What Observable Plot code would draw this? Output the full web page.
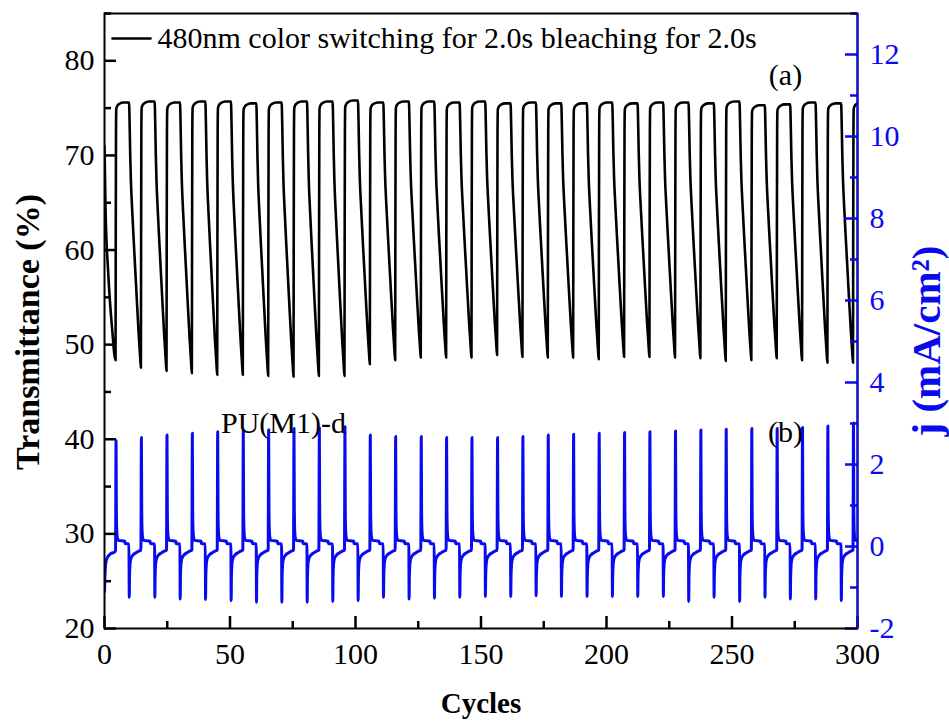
<!DOCTYPE html>
<html><head><meta charset="utf-8">
<script src="https://cdn.jsdelivr.net/npm/d3@7"></script>
<script src="https://cdn.jsdelivr.net/npm/@observablehq/plot@0.6"></script>
<style>body{margin:0;background:#fff}#chart{width:949px;height:724px}</style>
</head><body><div id="chart"></div>
<script>
// ---- data ----
// cycle positions of each transmittance minimum (start of bleaching)
const minCycle = [4.4,14.5,24.7,34.8,44.9,55.1,65.2,75.3,85.4,95.6,105.7,115.8,126.0,136.1,146.2,156.4,166.5,176.6,186.7,196.9,207.0,217.1,227.3,237.4,247.5,257.7,267.8,277.9,288.0,298.2];
// transmittance minimum (%) of each cycle
const minT = [48.35,47.57,47.22,46.98,46.80,46.80,46.70,46.62,46.70,46.70,47.93,48.35,48.63,48.63,48.63,48.91,48.70,48.63,48.63,48.45,48.70,48.70,48.63,48.56,48.28,48.35,48.56,48.35,48.10,48.10];
// bleached plateau transmittance (%) of each cycle
const topT = [75.6,75.7,75.6,75.7,75.7,75.5,75.6,75.7,75.7,75.8,75.6,75.7,75.7,75.6,75.7,75.5,75.6,75.5,75.5,75.6,75.5,75.6,75.6,75.5,75.7,75.3,75.4,75.6,75.5,75.6];
// anodic current peak (mA/cm2) of each cycle
const jPeak = [2.58,2.66,2.72,2.76,2.80,2.82,2.85,2.88,2.89,2.92,2.72,2.68,2.68,2.66,2.66,2.66,2.68,2.72,2.74,2.76,2.78,2.80,2.82,2.84,2.86,2.88,2.88,2.90,2.94,3.01];
// cathodic current peak (mA/cm2) of each colouring step
const jNeg = [-1.24,-1.24,-1.28,-1.29,-1.32,-1.36,-1.36,-1.36,-1.34,-1.32,-1.24,-1.28,-1.26,-1.24,-1.22,-1.22,-1.20,-1.22,-1.22,-1.22,-1.22,-1.22,-1.34,-1.24,-1.34,-1.24,-1.28,-1.28,-1.32];
// beginning of the traces (before the first minimum)
const startT = [[0,71],[0.4,64.5],[1.5,57.5],[3,51.8]];
const startJ = [[0,-1.1],[0.3,-0.55],[0.8,-0.32],[2,-0.2],[4.2,-0.12]];
// shape of one cycle
const riseShape = [[0,0],[0.08,0.45],[0.18,0.88],[0.3,0.975],[0.6,0.985],[1.6,0.995],[3.2,1]];
const decayShape = [[-4.7,1],[-4.6,0.97],[-4.45,0.9],[-4.25,0.8],[-4.0,0.71],[-3.5,0.6],[-2.7,0.45],[-1.7,0.27],[-0.9,0.13],[-0.3,0.04]];
const jUpShape = [[0,-0.1],[0.2,"peak"],[0.32,1.0],[0.46,0.42],[0.7,0.22],[1.1,0.15],[3.7,0.13],[3.8,0.07]];
const jDownShape = [[-0.05,0.06],[0.06,"neg"],[0.16,-0.75],[0.35,-0.45],[0.7,-0.3],[1.4,-0.22],[2.8,-0.15],[4.6,-0.1]];
// axes
const xTicks = [0,50,100,150,200,250,300];
const xMinor = [25,75,125,175,225,275];
const tTicks = [20,30,40,50,60,70,80];
const tMinor = [25,35,45,55,65,75,85];
const jTicks = [-2,0,2,4,6,8,10,12];
const jMinor = [-1,1,3,5,7,9,11,13];

// ---- layout ----
const W = 949, H = 724, mL = 104, mR = 92, mT = 13, mB = 96;
const xDomain = [0, 300], yDomain = [20, 85];
const pxX = (xDomain[1] - xDomain[0]) / (W - mL - mR);   // data units per pixel
const pxY = (yDomain[1] - yDomain[0]) / (H - mT - mB);

// ---- build series ----
const blue = "#0a0aee";
const toT = j => 20 + (j + 2) * 65 / 15;
const tPts = startT.map(([x, y]) => ({x, y}));
const jPts = startJ.map(([x, j]) => ({x, j}));
const n = minCycle.length;
for (let k = 0; k < n; k++) {
  const t0 = minCycle[k], lo = minT[k], hi = topT[k];
  for (const [dt, f] of riseShape) tPts.push({x: t0 + dt, y: lo + f * (hi - lo)});
  for (const [dt, v] of jUpShape) jPts.push({x: t0 + dt, j: v === "peak" ? jPeak[k] : v});
  if (k + 1 < n) {
    const t1 = minCycle[k + 1], lo1 = minT[k + 1];
    for (const [dt, g] of decayShape) tPts.push({x: t1 + dt, y: lo1 + g * (hi - lo1)});
    const d = t1 - 4.7;
    for (const [dt, v] of jDownShape) jPts.push({x: d + dt, j: v === "neg" ? jNeg[k] : v});
  }
}

const lineShape = {draw(ctx, l) { ctx.moveTo(0, 0); ctx.lineTo(0, -l); }};
const font = "'Liberation Serif','Times New Roman',serif";
// inward ticks as short rules
const xTickRule = (vals, len) => Plot.ruleX(vals, {x: d => d, y1: yDomain[0], y2: yDomain[0] + len * pxY, stroke: "#000", strokeWidth: 2.5});
const yTickRule = (vals, len) => Plot.ruleY(vals, {y: d => d, x1: xDomain[0], x2: xDomain[0] + len * pxX, stroke: "#000", strokeWidth: 2.5});
const jTickRule = (vals, len) => Plot.ruleY(vals, {y: d => toT(d), x1: xDomain[1] - len * pxX, x2: xDomain[1], stroke: blue, strokeWidth: 2.5});

const chart = Plot.plot({
  width: W, height: H,
  marginLeft: mL, marginRight: mR, marginTop: mT, marginBottom: mB,
  style: {fontFamily: font, fontSize: "30px", background: "#fff", color: "#000"},
  x: {domain: xDomain},
  y: {domain: yDomain},
  marks: [
    Plot.line(tPts, {x: "x", y: "y", stroke: "#000", strokeWidth: 2.6, curve: "monotone-x", clip: true}),
    Plot.line(jPts, {x: "x", y: d => toT(d.j), stroke: blue, strokeWidth: 3, curve: "monotone-x", clip: true}),
    // bottom axis
    Plot.axisX(xTicks, {tickSize: 0, tickPadding: 14, fontSize: 30, label: null}),
    xTickRule(xTicks, 12), xTickRule(xMinor, 7),
    // left axis
    Plot.axisY(tTicks, {tickSize: 0, tickPadding: 10, fontSize: 30, label: null}),
    yTickRule(tTicks, 12), yTickRule(tMinor, 7),
    // right axis (current density)
    Plot.axisY(jTicks.map(toT), {anchor: "right", tickSize: 0, tickPadding: 12, fontSize: 30, fill: blue, label: null,
      tickFormat: t => String(Math.round((t - 20) * 15 / 65 - 2))}),
    jTickRule(jTicks, 12), jTickRule(jMinor, 7),
    Plot.frame({stroke: "#000", strokeWidth: 2}),
    Plot.ruleX([xDomain[1]], {stroke: blue, strokeWidth: 2}),
    // legend
    Plot.vector([0], {frameAnchor: "top-left", dx: 8, dy: 25, length: 38, rotate: 90, anchor: "start", shape: lineShape, stroke: "#000", strokeWidth: 2.6}),
    Plot.text(["480nm color switching for 2.0s bleaching for 2.0s"], {frameAnchor: "top-left", dx: 53, dy: 25, textAnchor: "start", lineAnchor: "middle", fontSize: 30}),
    // annotations
    Plot.text(["(a)"], {frameAnchor: "top-right", dx: -72, dy: 62, textAnchor: "middle", lineAnchor: "middle", fontSize: 30}),
    Plot.text(["(b)"], {frameAnchor: "top-right", dx: -72, dy: 419, textAnchor: "middle", lineAnchor: "middle", fontSize: 30}),
    Plot.text(["PU(M1)-d"], {frameAnchor: "top-left", dx: 179, dy: 410, textAnchor: "middle", lineAnchor: "middle", fontSize: 30}),
    // axis titles
    Plot.text(["Transmittance (%)"], {frameAnchor: "left", dx: -76, dy: 11, rotate: -90, textAnchor: "middle", lineAnchor: "middle", fontWeight: "bold", fontSize: 34}),
    Plot.text(["j (mA/cm²)"], {frameAnchor: "right", dx: 69, dy: 20, rotate: -90, textAnchor: "middle", lineAnchor: "middle", fontWeight: "bold", fontSize: 41, fill: blue}),
    Plot.text(["Cycles"], {frameAnchor: "bottom", dx: 0, dy: 75, textAnchor: "middle", lineAnchor: "middle", fontWeight: "bold", fontSize: 29})
  ]
});
document.getElementById("chart").appendChild(chart);
</script>
</body></html>
